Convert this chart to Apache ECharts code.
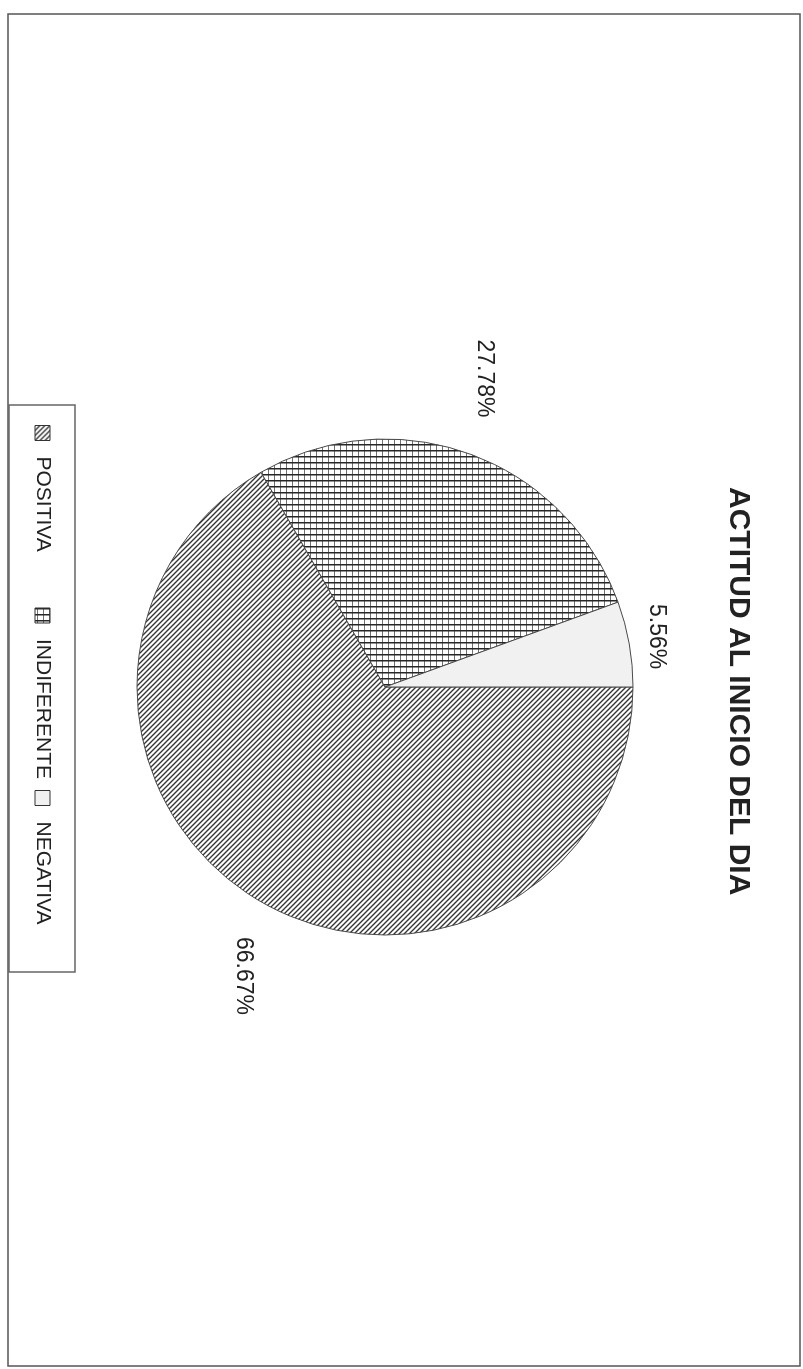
<!DOCTYPE html>
<html>
<head>
<meta charset="utf-8">
<script src="https://cdn.jsdelivr.net/npm/echarts@6/dist/echarts.min.js"></script>
<style>
  html, body { margin: 0; padding: 0; background: #fff; overflow: hidden; width: 803px; height: 1369px; }
  /* the chart is laid out landscape and turned a quarter turn clockwise on the page */
  #chart { position: absolute; left: 0; top: 0; width: 1369px; height: 803px;
           transform-origin: 0 0; transform: translateX(803px) rotate(90deg); }
</style>
</head>
<body>
<div id="chart"></div>
<script>
// ---- data ----
const categories = ['POSITIVA', 'INDIFERENTE', 'NEGATIVA'];
const shares = [66.67, 27.78, 5.56];
const titleText = 'ACTITUD AL INICIO DEL DIA';

// ---- layout (landscape coordinates) ----
const CX = 687, CY = 418, R = 248;
// value labels: distance from the centre and a small turn off the slice's mid-angle (degrees)
const labelDist = [322, 324, 276];
const labelTurn = [3.8, 2.2, 0.5];
const FONT = '"Liberation Sans", Arial, Helvetica, sans-serif';
// legend box and its equal-width entries
const LEGEND_BOX = { x: 405, y: 728, width: 567, height: 66 };
const LEGEND_FIRST = 425, LEGEND_SLOT = 182.5, LEGEND_TOP = 750;

// hatched fills built as small repeating canvas tiles
function tile(size, draw) {
  const c = document.createElement('canvas');
  c.width = size; c.height = size;
  const g = c.getContext('2d');
  g.fillStyle = '#fff';
  g.fillRect(0, 0, size, size);
  draw(g, size);
  return { image: c, repeat: 'repeat' };
}

const diagonalFill = tile(5, (g, s) => {
  g.strokeStyle = '#333';
  g.lineWidth = 1.35;
  g.beginPath();
  g.moveTo(-1, -1); g.lineTo(s + 1, s + 1);
  g.moveTo(-1, s - 1); g.lineTo(1, s + 1);
  g.moveTo(s - 1, -1); g.lineTo(s + 1, 1);
  g.stroke();
});

const gridFill = tile(6, (g, s) => {
  g.fillStyle = '#707070';
  g.fillRect(0, 0, s, 1);
  g.fillStyle = '#262626';
  g.fillRect(0, 0, 1.5, s);
});

const plainFill = '#f1f1f1';
const fills = [diagonalFill, gridFill, plainFill];

const total = shares.reduce((a, b) => a + b, 0);

const chart = echarts.init(document.getElementById('chart'), null, { renderer: 'canvas' });

chart.setOption({
  animation: false,
  backgroundColor: '#fff',
  title: {
    text: titleText,
    left: 487,
    top: 50,
    padding: 0,
    textStyle: { fontFamily: FONT, fontSize: 30, fontWeight: 'bold', color: '#222' }
  },
  // one legend per category so the entries sit in equal slots
  legend: categories.map((name, i) => ({
    data: [name],
    orient: 'horizontal',
    left: LEGEND_FIRST + i * LEGEND_SLOT,
    top: LEGEND_TOP,
    padding: 0,
    itemWidth: 15,
    itemHeight: 15,
    icon: 'rect',
    selectedMode: false,
    itemStyle: { borderColor: '#333', borderWidth: 1 },
    textStyle: { fontFamily: FONT, fontSize: 21, color: '#222', padding: [0, 0, 0, 11] }
  })),
  graphic: [{
    type: 'rect',
    shape: { x: 14, y: 3, width: 1352, height: 792 },
    style: { fill: 'none', stroke: '#555', lineWidth: 1.5 },
    silent: true
  }, {
    type: 'rect',
    shape: LEGEND_BOX,
    style: { fill: 'none', stroke: '#666', lineWidth: 1.5 },
    silent: true
  }],
  series: [{
    type: 'pie',
    center: [CX, CY],
    radius: R,
    startAngle: 90,
    clockwise: true,
    silent: true,
    emphasis: { disabled: true },
    itemStyle: { borderColor: '#4a4a4a', borderWidth: 1 },
    label: {
      show: true,
      formatter: '{c}%',
      fontFamily: FONT,
      fontSize: 23,
      color: '#222'
    },
    labelLine: { show: false },
    labelLayout: function (p) {
      const i = p.dataIndex;
      const before = shares.slice(0, i).reduce((a, b) => a + b, 0);
      const mid = (before + shares[i] / 2) / total;
      const ang = (90 - 360 * mid + labelTurn[i]) * Math.PI / 180;
      const d = labelDist[i];
      return { x: CX + d * Math.cos(ang), y: CY - d * Math.sin(ang), align: 'center', verticalAlign: 'middle' };
    },
    data: categories.map((name, i) => ({ name, value: shares[i], itemStyle: { color: fills[i] } }))
  }]
});
</script>
</body>
</html>
